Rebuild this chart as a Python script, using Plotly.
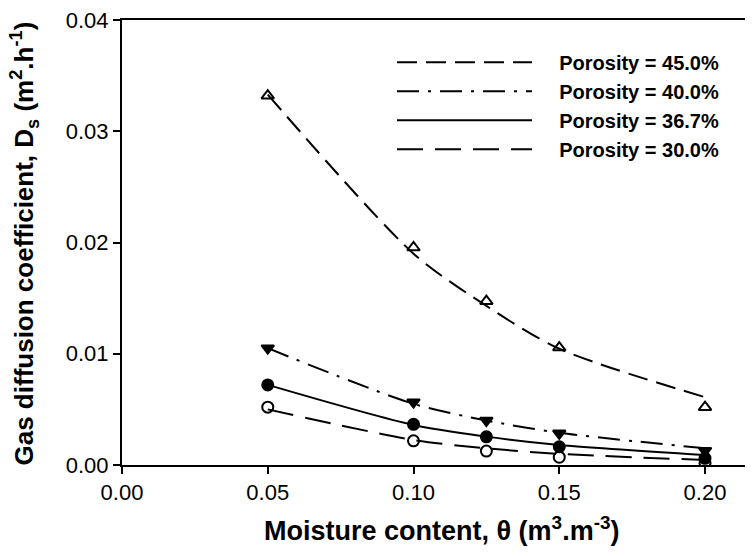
import plotly.graph_objects as go

# Data
moisture = [0.05, 0.10, 0.125, 0.15, 0.20]

labels = ["Porosity = 45.0%", "Porosity = 40.0%", "Porosity = 36.7%", "Porosity = 30.0%"]

ds_450 = [0.0332, 0.01955, 0.01473, 0.01056, 0.0052]
ds_400 = [0.0105, 0.00565, 0.0040, 0.00285, 0.00128]
ds_367 = [0.0072, 0.00366, 0.00253, 0.00164, 0.0006]
ds_300 = [0.0052, 0.00217, 0.00125, 0.0007, 0.0002]

# fitted (exponential) curves
fit_450 = [0.0333, 0.0190, 0.0143, 0.01045, 0.0061]
fit_400 = [0.0105, 0.0055, 0.0040, 0.0029, 0.0015]
fit_367 = [0.0072, 0.0036, 0.00255, 0.0018, 0.0009]
fit_300 = [0.0050, 0.00225, 0.0015, 0.0010, 0.00045]

x_ticks = [0.00, 0.05, 0.10, 0.15, 0.20]
y_ticks = [0.00, 0.01, 0.02, 0.03, 0.04]

fig = go.Figure()

series = [
    (ds_450, fit_450, "triangle-up-open", "20px,9px"),
    (ds_400, fit_400, "triangle-down", "22px,9px,3px,9px"),
    (ds_367, fit_367, "circle", "solid"),
    (ds_300, fit_300, "circle-open", "26px,12px"),
]

NB = "\u00a0" * 4
for lab, (pts, fit, sym, dash) in zip(labels, series):
    fig.add_trace(go.Scatter(
        x=moisture, y=fit, mode="lines", name=NB + lab,
        line=dict(color="black", width=2, dash=dash, shape="spline", smoothing=0.8),
        showlegend=True,
    ))
for lab, (pts, fit, sym, dash) in zip(labels, series):
    fig.add_trace(go.Scatter(
        x=moisture, y=pts, mode="markers", name=lab, showlegend=False,
        marker=dict(symbol=sym, size=11, color="black",
                    line=dict(color="black", width=2)),
    ))

font_family = "Arial, Liberation Sans, sans-serif"

PW = 753 - 114   # plot width in px
PH = 448         # plot height in px

fig.update_layout(
    width=753, height=556,
    margin=dict(l=114, r=0, t=9, b=99),
    paper_bgcolor="white", plot_bgcolor="white",
    font=dict(family=font_family, color="black", size=22),
    showlegend=True,
    legend=dict(
        x=(384 - 114) / PW, y=(457 - 32) / PH, xanchor="left", yanchor="top",
        bgcolor="rgba(0,0,0,0)", borderwidth=0,
        font=dict(family=font_family, size=20, color="black", weight="bold"),
        itemwidth=135, tracegroupgap=0,
    ),
    xaxis=dict(
        range=[0, 0.2192], tickvals=x_ticks, tickformat=".2f",
        showline=True, linecolor="black", linewidth=2, mirror=True,
        ticks="outside", ticklen=7, tickwidth=2, tickcolor="black",
        showgrid=False, zeroline=False, ticklabeloverflow="allow",
        tickfont=dict(size=22),
    ),
    yaxis=dict(
        range=[0, 0.04], tickvals=y_ticks, tickformat=".2f",
        showline=True, linecolor="black", linewidth=2, mirror=False,
        ticks="outside", ticklen=7, tickwidth=2, tickcolor="black",
        showgrid=False, zeroline=False, ticklabeloverflow="allow",
        tickfont=dict(size=22),
    ),
)

fig.add_annotation(
    text="<b>Moisture content, θ (m<sup>3</sup>.m<sup>-3</sup>)</b>",
    xref="paper", yref="paper", x=(433 - 114) / PW, y=-(521 - 457) / PH,
    xanchor="center", yanchor="middle", showarrow=False,
    font=dict(size=27, family=font_family),
)
fig.add_annotation(
    text="<b>Gas diffusion coefficient, D<sub>s</sub> (m<sup>2</sup>.h<sup>-1</sup>)</b>",
    xref="paper", yref="paper", x=(17 - 114) / PW, y=(457 - 234) / PH,
    xanchor="center", yanchor="middle", textangle=-90, showarrow=False,
    font=dict(size=26, family=font_family),
)

fig.write_html("out.html")
